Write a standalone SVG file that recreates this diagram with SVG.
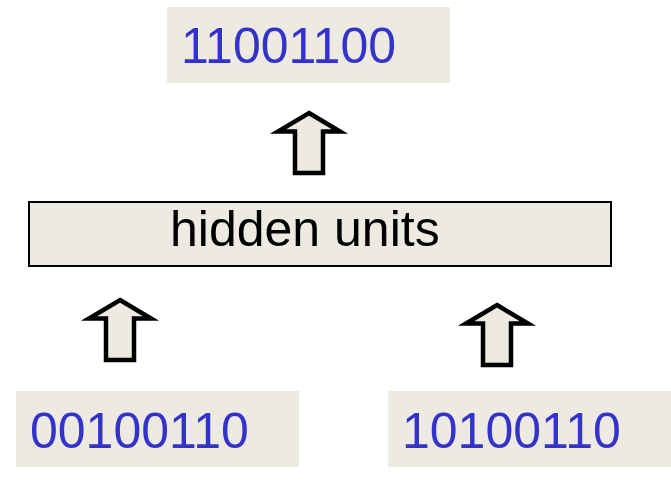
<svg xmlns="http://www.w3.org/2000/svg" width="671" height="490" viewBox="0 0 671 490">
<defs>
<style>
.bg{fill:#EDEBE1}
.num{font-family:"Liberation Sans",Arial,sans-serif;font-size:50px;fill:#3333CC}
.lbl{font-family:"Liberation Sans",Arial,sans-serif;font-size:50px;fill:#000}
.arr{fill:#EDEBE1;stroke:#000;stroke-width:4.5;stroke-linejoin:miter;stroke-miterlimit:10}
</style>
<path id="up" d="M0,4 L31,22.5 L14,22.5 L14,64 L-14,64 L-14,22.5 L-31,22.5 Z"/>
</defs>
<rect width="671" height="490" fill="#fff"/>
<g id="output">
<rect class="bg" x="167" y="7" width="283" height="76"/>
<text class="num" x="181" y="63">11001100</text>
</g>
<g id="hidden">
<rect class="bg" x="29" y="202" width="582" height="64" stroke="#000" stroke-width="2"/>
<text class="lbl" x="170" y="246">hidden units</text>
</g>
<g id="input1">
<rect class="bg" x="16" y="391" width="283" height="76"/>
<text class="num" x="30" y="448">00100110</text>
</g>
<g id="input2">
<rect class="bg" x="388" y="391" width="283" height="76"/>
<text class="num" x="402" y="448">10100110</text>
</g>
<g id="connectors">
<use href="#up" class="arr" transform="translate(309,109)"/>
<use href="#up" class="arr" transform="translate(120,296)"/>
<use href="#up" class="arr" transform="translate(497,301)"/>
</g>
</svg>
